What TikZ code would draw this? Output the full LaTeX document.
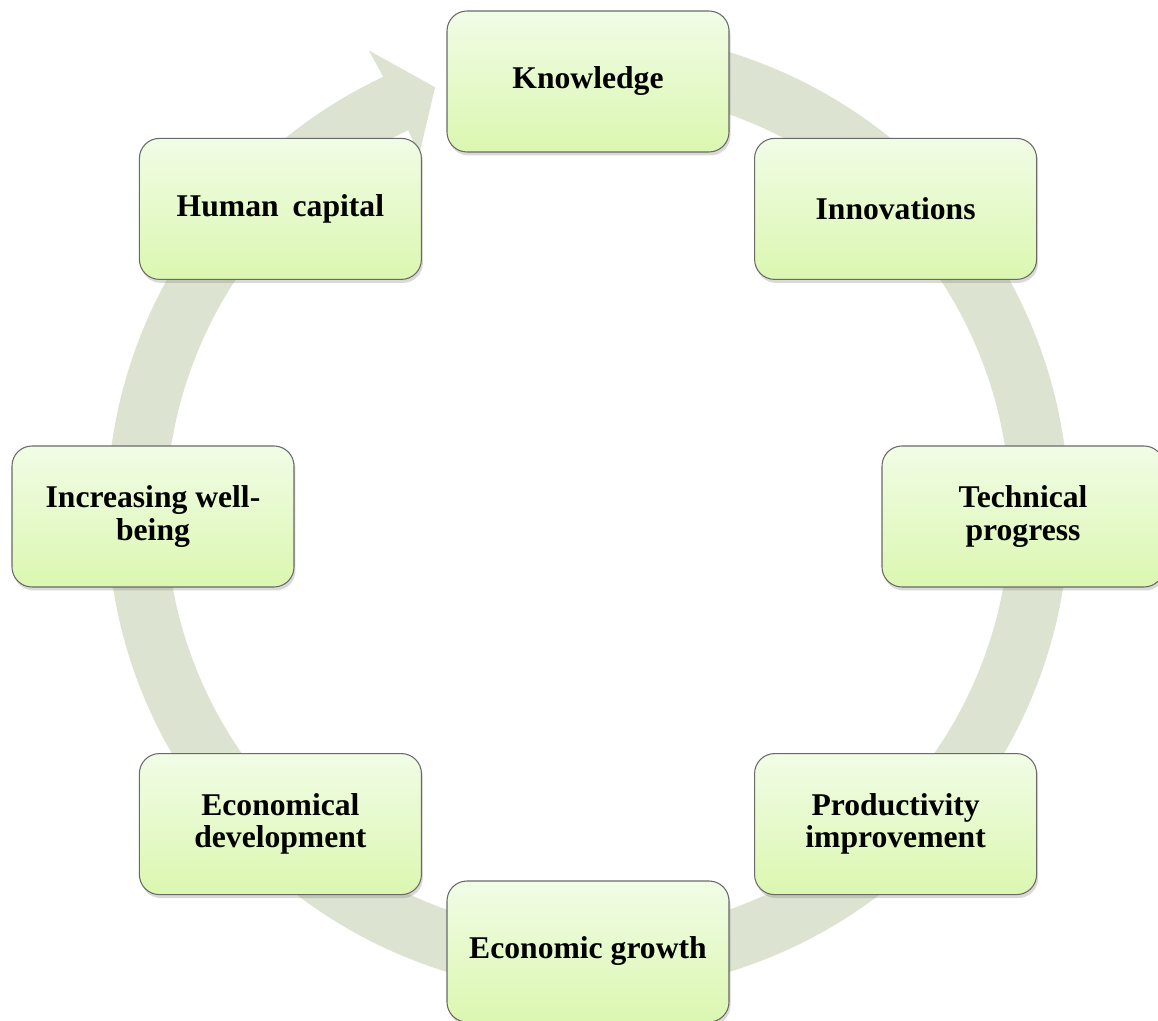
\documentclass[tikz,border=0pt]{standalone}
\usepackage{fontspec}
\setmainfont{Liberation Serif}
\usepackage{tikz}
\usetikzlibrary{positioning,shadows}
\definecolor{ringgrey}{RGB}{220,228,209}
\definecolor{stagetop}{RGB}{241,252,230}
\definecolor{stagebottom}{RGB}{219,247,176}
\definecolor{stageedge}{RGB}{105,105,105}

\begin{document}
\begin{tikzpicture}[
    stage/.style={
        draw=stageedge,
        line width=0.6pt,
        rounded corners=0.4cm,
        top color=stagetop,
        bottom color=stagebottom,
        drop shadow={shadow xshift=0.03cm, shadow yshift=-0.07cm, opacity=0.3},
        font=\fontsize{18}{18.5}\selectfont\bfseries,
        align=center,
        minimum width=5.64cm,
        minimum height=2.82cm
    },
    cyclearrow/.style={
        fill=ringgrey
    }
]

\useasboundingbox (-11.76,-10.09) rectangle (11.4,10.33);

% ============================================================
% CIRCULAR ARROW BEHIND THE STAGES
% ============================================================

\begin{scope}[shift={(0,0.09)}]
\fill[cyclearrow]
(100:9.62) arc[start angle=100, end angle=-244.8, radius=9.62]
-- (-244.6:10.22)
-- (-250.2:9.03)
-- (-244.6:7.88)
-- (-244.8:8.44)
arc[start angle=-244.8, end angle=100, radius=8.44]
-- cycle;
\end{scope}

% ============================================================
% STAGES OF THE CYCLE
% ============================================================

\node[stage] (know)  at (90:8.7)   {Knowledge};

\node[stage] (innov) at (45:8.7)   {Innovations};

\node[stage] (tech)  at (0:8.7)    {Technical\\progress};

\node[stage] (prod)  at (-45:8.7)  {Productivity\\improvement};

\node[stage] (growth) at (-90:8.7) {Economic growth};

\node[stage] (devel) at (-135:8.7) {Economical\\development};

\node[stage] (well)  at (180:8.7)  {Increasing well-\\being};

\node[stage] (human) at (135:8.7)  {Human\hspace{0.28cm}capital};

\end{tikzpicture}
\end{document}
